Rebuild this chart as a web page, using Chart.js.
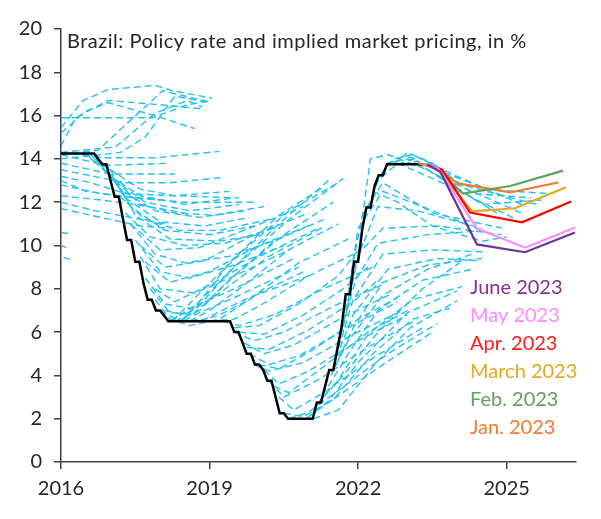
<!DOCTYPE html>
<html>
<head>
<meta charset="utf-8">
<script src="https://cdn.jsdelivr.net/npm/chart.js@4.4.1/dist/chart.umd.min.js"></script>
<style>
  html, body { margin: 0; padding: 0; background: #fff; }
  #wrap { width: 601px; height: 519px; }
</style>
</head>
<body>
<div id="wrap"><canvas id="brazilChart" width="601" height="519"></canvas></div>
<script>
// ---- data ----
const titleText = 'Brazil: Policy rate and implied market pricing, in %';
const xTickYears = [2016, 2019, 2022, 2025];
const yTickValues = [0, 2, 4, 6, 8, 10, 12, 14, 16, 18, 20];

// policy rate, one value per month (Jan..Dec)
const policyYears = [2016, 2017, 2018, 2019, 2020, 2021, 2022, 2023];
const policyRateByYear = [
    [14.25, 14.25, 14.25, 14.25, 14.25, 14.25, 14.25, 14.25, 14.25, 14.0, 13.75, 13.75],
    [13.0, 12.25, 12.25, 11.25, 10.25, 10.25, 9.25, 9.25, 8.25, 7.5, 7.5, 7.0],
    [7.0, 6.75, 6.5, 6.5, 6.5, 6.5, 6.5, 6.5, 6.5, 6.5, 6.5, 6.5],
    [6.5, 6.5, 6.5, 6.5, 6.5, 6.5, 6.0, 6.0, 5.5, 5.0, 5.0, 4.5],
    [4.5, 4.25, 3.75, 3.75, 3.0, 2.25, 2.25, 2.0, 2.0, 2.0, 2.0, 2.0],
    [2.0, 2.0, 2.75, 2.75, 3.5, 4.25, 4.25, 5.25, 6.25, 7.75, 7.75, 9.25],
    [9.25, 10.75, 11.75, 11.75, 12.75, 13.25, 13.25, 13.75, 13.75, 13.75, 13.75, 13.75],
    [13.75, 13.75, 13.75, 13.75, 13.75]
];

// older market-implied paths (light blue dashed), [year, %]
const marketCurves = [
    [[2016.0, 15.45], [2016.45, 16.7], [2016.95, 17.2], [2017.9, 17.4], [2018.25, 17.15], [2019.05, 16.8]],
    [[2016.0, 14.6], [2016.3, 15.9], [2016.95, 16.7], [2018.0, 16.5], [2018.9, 16.3]],
    [[2016.0, 15.9], [2016.4, 15.9], [2017.85, 15.9], [2018.55, 16.5], [2019.05, 16.7]],
    [[2016.0, 15.2], [2016.5, 16.2], [2016.95, 16.6], [2017.9, 16.0], [2018.7, 15.4]],
    [[2016.0, 14.2], [2016.75, 14.4], [2018.05, 17.15], [2019.05, 16.6]],
    [[2016.0, 14.3], [2017.1, 14.55], [2017.9, 16.1], [2018.55, 16.7], [2018.85, 16.4]],
    [[2016.0, 14.0], [2017.2, 14.3], [2017.7, 15.0], [2018.3, 16.9], [2019.0, 16.6]],
    [[2016.0, 14.3], [2016.9, 14.05], [2017.9, 14.05], [2019.2, 14.35]],
    [[2016.0, 14.2], [2016.9, 13.7], [2017.6, 13.75], [2018.2, 13.8]],
    [[2016.0, 13.8], [2017.0, 13.3], [2017.6, 13.3], [2018.3, 13.3]],
    [[2016.0, 13.5], [2017.3, 12.9], [2018.2, 12.9], [2019.3, 13.15]],
    [[2016.0, 13.2], [2016.6, 12.9], [2017.3, 12.4], [2018.3, 12.3], [2019.6, 12.2]],
    [[2016.0, 12.8], [2016.8, 12.4], [2017.5, 12.2], [2018.5, 12.0], [2019.9, 12.0]],
    [[2016.0, 12.3], [2016.8, 12.1], [2017.5, 11.9], [2018.5, 11.5]],
    [[2016.0, 12.0], [2016.7, 11.6], [2017.4, 11.3], [2018.1, 11.0]],
    [[2016.0, 11.7], [2016.8, 11.3], [2017.6, 10.9], [2018.2, 10.8]],
    [[2016.0, 13.0], [2016.5, 12.5], [2017.2, 12.3], [2018.0, 12.1]],
    [[2016.0, 10.6], [2016.15, 10.55]],
    [[2016.0, 10.0], [2016.1, 9.9]],
    [[2016.05, 9.45], [2016.2, 9.35]],
    [[2016.4, 14.25], [2017.0, 13.5], [2017.6, 12.6], [2018.3, 12.3], [2019.4, 12.5]],
    [[2016.5, 14.25], [2017.0, 13.2], [2017.6, 12.3], [2018.5, 11.9], [2019.5, 12.2]],
    [[2016.6, 14.2], [2017.1, 13.0], [2017.7, 12.0], [2018.6, 11.6], [2019.6, 11.9]],
    [[2016.7, 14.0], [2017.2, 12.6], [2017.9, 11.6], [2018.8, 11.3], [2019.7, 11.6]],
    [[2016.8, 13.9], [2017.3, 12.2], [2018.0, 11.1], [2018.9, 10.9], [2019.8, 11.3]],
    [[2016.9, 13.75], [2017.4, 11.8], [2018.1, 10.7], [2019.0, 10.5], [2019.9, 10.9]],
    [[2017.0, 13.5], [2017.5, 11.4], [2018.2, 10.3], [2019.2, 10.2], [2020.0, 10.5]],
    [[2017.1, 13.0], [2017.6, 11.9], [2018.3, 11.5], [2019.1, 11.4], [2020.1, 11.8]],
    [[2017.2, 12.25], [2017.7, 11.2], [2018.4, 10.7], [2019.2, 10.7], [2020.2, 11.2]],
    [[2017.3, 11.5], [2017.8, 10.4], [2018.5, 10.0], [2019.3, 10.1], [2020.3, 10.8]],
    [[2017.4, 11.0], [2017.9, 9.6], [2018.5, 9.2], [2019.4, 9.5], [2020.4, 10.3]],
    [[2017.4, 11.0], [2018.0, 9.8], [2018.8, 9.9], [2019.8, 10.8], [2020.9, 11.8]],
    [[2017.5, 10.25], [2018.0, 8.8], [2018.6, 8.5], [2019.5, 9.1], [2020.5, 10.0]],
    [[2017.6, 10.0], [2018.1, 9.0], [2018.9, 9.3], [2019.9, 10.5], [2021.0, 11.5]],
    [[2017.6, 9.5], [2018.0, 8.0], [2018.7, 7.8], [2019.6, 8.7], [2020.6, 9.8]],
    [[2017.7, 9.25], [2018.2, 8.3], [2019.0, 8.8], [2020.0, 10.0], [2021.1, 11.0]],
    [[2017.7, 8.5], [2018.1, 7.3], [2018.6, 7.1], [2019.5, 8.0], [2020.7, 9.4]],
    [[2017.8, 8.0], [2018.2, 6.9], [2018.7, 6.8], [2019.6, 7.7], [2020.8, 9.0]],
    [[2017.9, 8.0], [2018.3, 7.4], [2019.1, 8.3], [2020.1, 9.6], [2021.2, 10.8]],
    [[2017.9, 7.5], [2018.2, 6.6], [2018.6, 6.3], [2019.2, 6.6], [2020.0, 7.8], [2020.9, 8.8]],
    [[2018.0, 7.0], [2018.4, 6.5], [2018.9, 6.6], [2019.8, 7.6], [2021.0, 8.6]],
    [[2018.1, 7.0], [2018.5, 6.8], [2019.2, 7.8], [2020.2, 9.5], [2021.3, 10.85]],
    [[2018.2, 6.5], [2018.7, 7.2], [2019.5, 9.0], [2020.6, 11.2], [2021.7, 13.1]],
    [[2018.25, 6.5], [2018.8, 7.8], [2019.6, 9.6], [2020.6, 11.6], [2021.6, 12.9]],
    [[2018.3, 6.5], [2018.8, 7.0], [2019.3, 8.2], [2020.3, 10.2], [2021.3, 11.2]],
    [[2018.4, 6.5], [2018.9, 7.5], [2019.4, 8.8], [2020.4, 11.0], [2021.4, 13.0]],
    [[2018.45, 6.5], [2018.9, 7.7], [2019.4, 9.2], [2020.4, 11.4], [2021.3, 12.7]],
    [[2018.5, 6.5], [2018.9, 7.3], [2019.5, 8.6], [2020.5, 10.5], [2021.5, 12.0]],
    [[2018.6, 6.5], [2019.0, 7.0], [2019.6, 8.0], [2020.6, 9.8], [2021.6, 11.0]],
    [[2018.8, 6.5], [2019.2, 6.8], [2019.8, 7.5], [2020.8, 9.2], [2021.8, 10.3]],
    [[2019.0, 6.5], [2019.5, 6.6], [2020.0, 7.2], [2021.0, 8.6], [2022.0, 9.7]],
    [[2019.3, 6.5], [2019.6, 6.3], [2020.3, 6.8], [2021.3, 8.0], [2022.3, 9.0]],
    [[2019.5, 6.2], [2020.0, 6.3], [2020.8, 7.3], [2021.6, 8.6], [2022.1, 10.1]],
    [[2019.5, 6.0], [2019.9, 5.6], [2020.5, 6.0], [2021.5, 7.2], [2022.5, 8.2]],
    [[2019.6, 6.0], [2020.1, 5.9], [2020.9, 6.8], [2021.7, 8.0], [2022.2, 9.0]],
    [[2019.7, 5.5], [2020.1, 5.0], [2020.7, 5.4], [2021.7, 6.7], [2022.7, 7.8]],
    [[2019.75, 5.3], [2020.2, 5.2], [2021.0, 6.1], [2021.9, 7.4], [2022.4, 8.4]],
    [[2019.8, 5.0], [2020.2, 4.5], [2020.8, 4.9], [2021.8, 6.2], [2022.8, 7.4]],
    [[2019.9, 4.5], [2020.2, 4.2], [2020.9, 4.6], [2021.9, 5.9], [2022.9, 7.0]],
    [[2020.0, 4.5], [2020.4, 4.3], [2021.1, 5.2], [2022.0, 6.6], [2022.8, 7.6]],
    [[2020.1, 4.25], [2020.4, 3.6], [2021.0, 4.2], [2022.0, 5.6], [2023.0, 6.8]],
    [[2020.2, 3.75], [2020.5, 3.0], [2021.2, 3.8], [2022.2, 5.3], [2023.2, 6.6]],
    [[2020.3, 3.5], [2020.6, 3.2], [2021.3, 4.4], [2022.2, 6.0], [2023.0, 7.0]],
    [[2020.4, 3.0], [2020.7, 2.4], [2021.3, 3.2], [2022.3, 4.8], [2023.3, 6.2]],
    [[2020.5, 2.25], [2020.9, 2.1], [2021.5, 2.9], [2022.5, 4.5], [2023.5, 6.0]],
    [[2020.6, 2.0], [2021.0, 2.3], [2021.6, 3.3], [2022.6, 5.0], [2023.6, 6.4]],
    [[2021.1, 2.0], [2021.6, 2.4], [2022.35, 4.55], [2023.05, 6.2], [2024.0, 7.45]],
    [[2021.0, 2.1], [2021.5, 2.9], [2022.3, 5.0], [2023.1, 6.6], [2023.85, 7.1]],
    [[2020.95, 2.0], [2021.4, 2.8], [2022.0, 4.6], [2023.0, 6.9], [2024.0, 7.9]],
    [[2021.2, 2.75], [2021.6, 3.8], [2022.2, 5.9], [2023.1, 7.5], [2024.1, 8.1]],
    [[2021.3, 3.0], [2021.7, 4.0], [2022.4, 6.0], [2023.3, 8.0], [2024.05, 9.2]],
    [[2021.4, 3.5], [2021.8, 5.0], [2022.4, 7.0], [2023.3, 8.4], [2024.3, 8.9]],
    [[2021.45, 4.0], [2021.8, 5.6], [2022.5, 7.7], [2023.4, 8.9], [2024.3, 9.6]],
    [[2021.5, 4.25], [2021.9, 6.2], [2022.5, 8.3], [2023.4, 9.1], [2024.5, 9.4]],
    [[2021.55, 4.8], [2021.9, 6.8], [2022.6, 8.9], [2023.6, 9.4], [2024.4, 9.3]],
    [[2021.6, 5.25], [2021.9, 7.5], [2022.5, 9.6], [2023.5, 9.8], [2024.6, 9.7]],
    [[2021.65, 6.0], [2021.95, 8.4], [2022.4, 10.1], [2023.4, 10.5], [2024.6, 10.7]],
    [[2021.7, 6.25], [2022.0, 9.5], [2022.4, 11.8], [2023.2, 11.6], [2024.5, 10.8]],
    [[2021.75, 7.0], [2022.0, 9.6], [2022.5, 10.8], [2023.6, 10.9], [2024.9, 10.5]],
    [[2021.8, 7.75], [2022.0, 10.8], [2022.5, 12.5], [2023.3, 11.8], [2024.7, 10.5]],
    [[2021.9, 9.25], [2022.1, 11.5], [2022.5, 12.9], [2023.5, 11.5], [2024.9, 10.8]],
    [[2022.05, 10.75], [2022.25, 14.0], [2022.6, 14.2], [2023.4, 13.5], [2024.8, 11.5]],
    [[2022.2, 11.75], [2022.4, 13.0], [2022.8, 13.8], [2023.6, 13.0], [2025.2, 11.2]],
    [[2022.35, 12.75], [2022.6, 13.8], [2023.0, 14.0], [2023.8, 13.0], [2025.3, 11.5]],
    [[2022.45, 13.25], [2022.7, 14.0], [2023.1, 14.2], [2023.9, 13.3], [2025.4, 11.8]],
    [[2022.6, 13.75], [2022.9, 14.1], [2023.3, 14.0], [2024.1, 12.8], [2025.6, 11.9]],
    [[2022.7, 13.75], [2023.0, 14.3], [2023.5, 13.8], [2024.3, 12.4], [2025.5, 12.2]],
    [[2022.8, 13.75], [2023.1, 14.0], [2023.6, 13.2], [2024.5, 11.9], [2025.7, 12.1]],
    [[2022.9, 13.75], [2023.2, 13.9], [2023.7, 13.4], [2024.6, 12.6], [2025.8, 12.4]],
    [[2022.3, 12.5], [2022.8, 12.0], [2023.5, 10.9], [2024.5, 10.2], [2025.0, 10.4]]
];

// 2023 vintages (solid, labelled)
const recentLabels = ['June 2023', 'May 2023', 'Apr. 2023', 'March 2023', 'Feb. 2023', 'Jan. 2023'];
const recentCurves = [
    [[2023.39, 13.75], [2023.66, 13.4], [2024.4, 10.05], [2025.37, 9.69], [2026.38, 10.6]],
    [[2023.35, 13.75], [2023.62, 13.55], [2024.4, 10.78], [2025.37, 9.9], [2026.38, 10.83]],
    [[2023.35, 13.75], [2023.7, 13.5], [2024.26, 11.52], [2025.31, 11.07], [2026.3, 12.03]],
    [[2023.3, 13.75], [2023.62, 13.5], [2024.3, 11.58], [2025.17, 11.72], [2026.2, 12.69]],
    [[2023.3, 13.75], [2023.55, 13.6], [2024.12, 12.4], [2025.07, 12.75], [2026.14, 13.46]],
    [[2023.21, 13.8], [2023.49, 13.65], [2024.02, 12.87], [2025.07, 12.45], [2026.04, 12.91]]
];

// ---- styles ----
const lineColors = ['#7030a0', '#ff8cff', '#ff0000', '#e3a81f', '#5ea35a', '#f97a2a'];
const labelColors = ['#852f95', '#ff8cff', '#ff1a1a', '#e3a81f', '#5ea35a', '#f97a2a'];
const colorBlue = '#22c2ef';
const colorAxis = '#404040';
const colorText = '#262626';
const fontName = 'Lato';

// policy rate points: month m of year y placed at y + m/12
const policyPoints = [];
policyYears.forEach(function(yr, i) {
    policyRateByYear[i].forEach(function(v, m) {
        policyPoints.push({ x: yr + m / 12, y: v });
    });
});

const datasets = [];
recentCurves.forEach(function(c, i) {
    datasets.push({
        label: recentLabels[i],
        data: c.map(function(p) { return { x: p[0], y: p[1] }; }),
        borderColor: lineColors[i],
        borderWidth: 2.2,
        order: 1
    });
});
datasets.push({
    label: 'Policy rate',
    data: policyPoints,
    borderColor: '#000000',
    borderWidth: 2.5,
    order: 2
});
marketCurves.forEach(function(c) {
    datasets.push({
        label: 'market',
        data: c.map(function(p) { return { x: p[0], y: p[1] }; }),
        borderColor: colorBlue,
        borderWidth: 1.4,
        borderDash: [7, 4],
        order: 3
    });
});

// title and coloured labels drawn as text on the chart
const textPlugin = {
    id: 'textPlugin',
    afterDraw: function(chart) {
        const ctx = chart.ctx;
        ctx.save();
        ctx.textBaseline = 'alphabetic';
        ctx.textAlign = 'left';
        ctx.font = '20px ' + fontName;
        ctx.fillStyle = colorText;
        ctx.letterSpacing = '0.5px';
        ctx.fillText(titleText, 67, 48);
        ctx.letterSpacing = '0px';
        recentLabels.forEach(function(t, i) {
            ctx.fillStyle = labelColors[i];
            ctx.fillText(t, 470, 294 + i * 28);
        });
        ctx.restore();
    }
};

new Chart(document.getElementById('brazilChart').getContext('2d'), {
    type: 'scatter',
    data: { datasets: datasets },
    options: {
        responsive: false,
        animation: false,
        devicePixelRatio: 1,
        layout: { padding: { top: 29, right: 25, left: 0, bottom: 0 } },
        elements: {
            point: { radius: 0, hoverRadius: 0 },
            line: { tension: 0, fill: false }
        },
        datasets: { scatter: { showLine: true } },
        plugins: {
            legend: { display: false },
            tooltip: { enabled: false }
        },
        scales: {
            x: {
                type: 'linear',
                min: 2016,
                max: 2026.4,
                afterBuildTicks: function(axis) {
                    axis.ticks = xTickYears.map(function(v) { return { value: v }; });
                },
                afterFit: function(axis) { axis.height = 57; },
                ticks: {
                    autoSkip: false,
                    maxRotation: 0,
                    padding: 8,
                    color: colorText,
                    font: { family: fontName, size: 20 },
                    callback: function(v) { return String(v); }
                },
                grid: { drawOnChartArea: false, drawTicks: true, tickLength: 7, color: colorAxis, lineWidth: 1.5 },
                border: { display: true, color: colorAxis, width: 1.5 }
            },
            y: {
                min: 0,
                max: 20,
                afterBuildTicks: function(axis) {
                    axis.ticks = yTickValues.map(function(v) { return { value: v }; });
                },
                afterFit: function(axis) { axis.width = 61; },
                ticks: {
                    padding: 12,
                    color: colorText,
                    font: { family: fontName, size: 20 },
                    callback: function(v) { return String(v); }
                },
                grid: { drawOnChartArea: false, drawTicks: true, tickLength: 7, color: colorAxis, lineWidth: 1.5 },
                border: { display: true, color: colorAxis, width: 1.5 }
            }
        }
    },
    plugins: [textPlugin]
});
</script>
</body>
</html>
